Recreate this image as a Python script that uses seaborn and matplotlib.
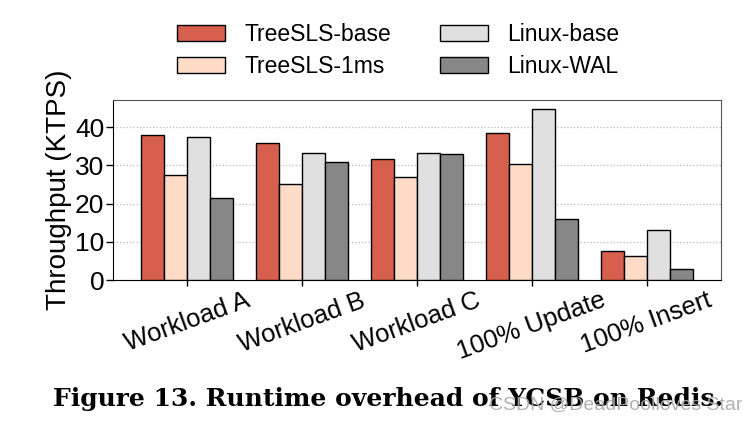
import numpy as np
import pandas as pd
import seaborn as sns
from matplotlib import pyplot as plt

sns.set_style("white")
plt.rcParams['font.family'] = ['Liberation Sans', 'DejaVu Sans']
plt.rcParams['text.color'] = 'black'
plt.rcParams['axes.labelcolor'] = 'black'
plt.rcParams['xtick.color'] = 'black'
plt.rcParams['ytick.color'] = 'black'

# ------------------------------------
workloads = ["Workload A", "Workload B", "Workload C", "100% Update", "100% Insert"]
systems = ["TreeSLS-base", "TreeSLS-1ms", "Linux-base", "Linux-WAL"]
treesls_base = [38.1, 35.8, 31.8, 38.5, 7.7]
treesls_1ms = [27.6, 25.1, 26.9, 30.5, 6.4]
linux_base = [37.4, 33.4, 33.3, 44.8, 13.1]
linux_wal = [21.5, 30.8, 33.0, 16.1, 2.8]
colors = ["#d6604d", "#fddbc7", "#e0e0e0", "#878787"]
# ------------------------------------

rows = []
for sysname, vals in zip(systems, [treesls_base, treesls_1ms, linux_base, linux_wal]):
    for wl, v in zip(workloads, vals):
        rows.append({"workload": wl, "system": sysname, "ktps": v})
df = pd.DataFrame(rows)

fh = plt.figure(figsize=(7.56, 4.23), dpi=100)
ah = fh.add_axes([0.149, 0.338, 0.805, 0.426])
sns.barplot(data=df, x="workload", y="ktps", hue="system", hue_order=systems,
            order=workloads, palette=colors, width=0.8, edgecolor="black",
            linewidth=1.0, saturation=1, ax=ah, zorder=3)

ah.set_ylim(0, 47.2)
ah.set_xlim(-0.65, 4.65)
ah.set_yticks([0, 10, 20, 30, 40])
ah.yaxis.grid(True, linestyle=":", color="#bbbbbb", linewidth=0.9, zorder=0)
ah.set_axisbelow(True)
ah.tick_params(axis="y", labelsize=19, direction="out", length=5, width=1, left=True, pad=1)
ah.tick_params(axis="x", labelsize=18.5, direction="out", length=4, width=1, bottom=True, pad=2)
ah.set_xticks(range(len(workloads)))
ah.set_xticklabels(workloads, rotation=20, ha="center")
ah.set_xlabel("")
ah.set_ylabel("Throughput (KTPS)", fontsize=20, labelpad=2)
for sp in ["left", "bottom"]:
    ah.spines[sp].set_color("black")
for sp in ["top", "right"]:
    ah.spines[sp].set_color("#555555")

h, l = ah.get_legend_handles_labels()
ah.legend_.remove()
fh.legend(h, l, ncol=2, loc="upper center", bbox_to_anchor=(0.527, 0.995), frameon=False,
          fontsize=16.5, handlelength=2.1, handleheight=0.7, columnspacing=2.1,
          handletextpad=0.85, labelspacing=0.4)

fh.text(0.513, 0.040, "Figure 13. Runtime overhead of YCSB on Redis.", ha="center", va="baseline",
        fontsize=18, fontweight="bold", family=["DejaVu Serif"])
fh.text(0.982, 0.042, "CSDN @DeadPoolloves Star", ha="right", va="center", fontsize=14,
        color="#aaaaaa", alpha=0.9)

fh.savefig("out.png", dpi=100)
